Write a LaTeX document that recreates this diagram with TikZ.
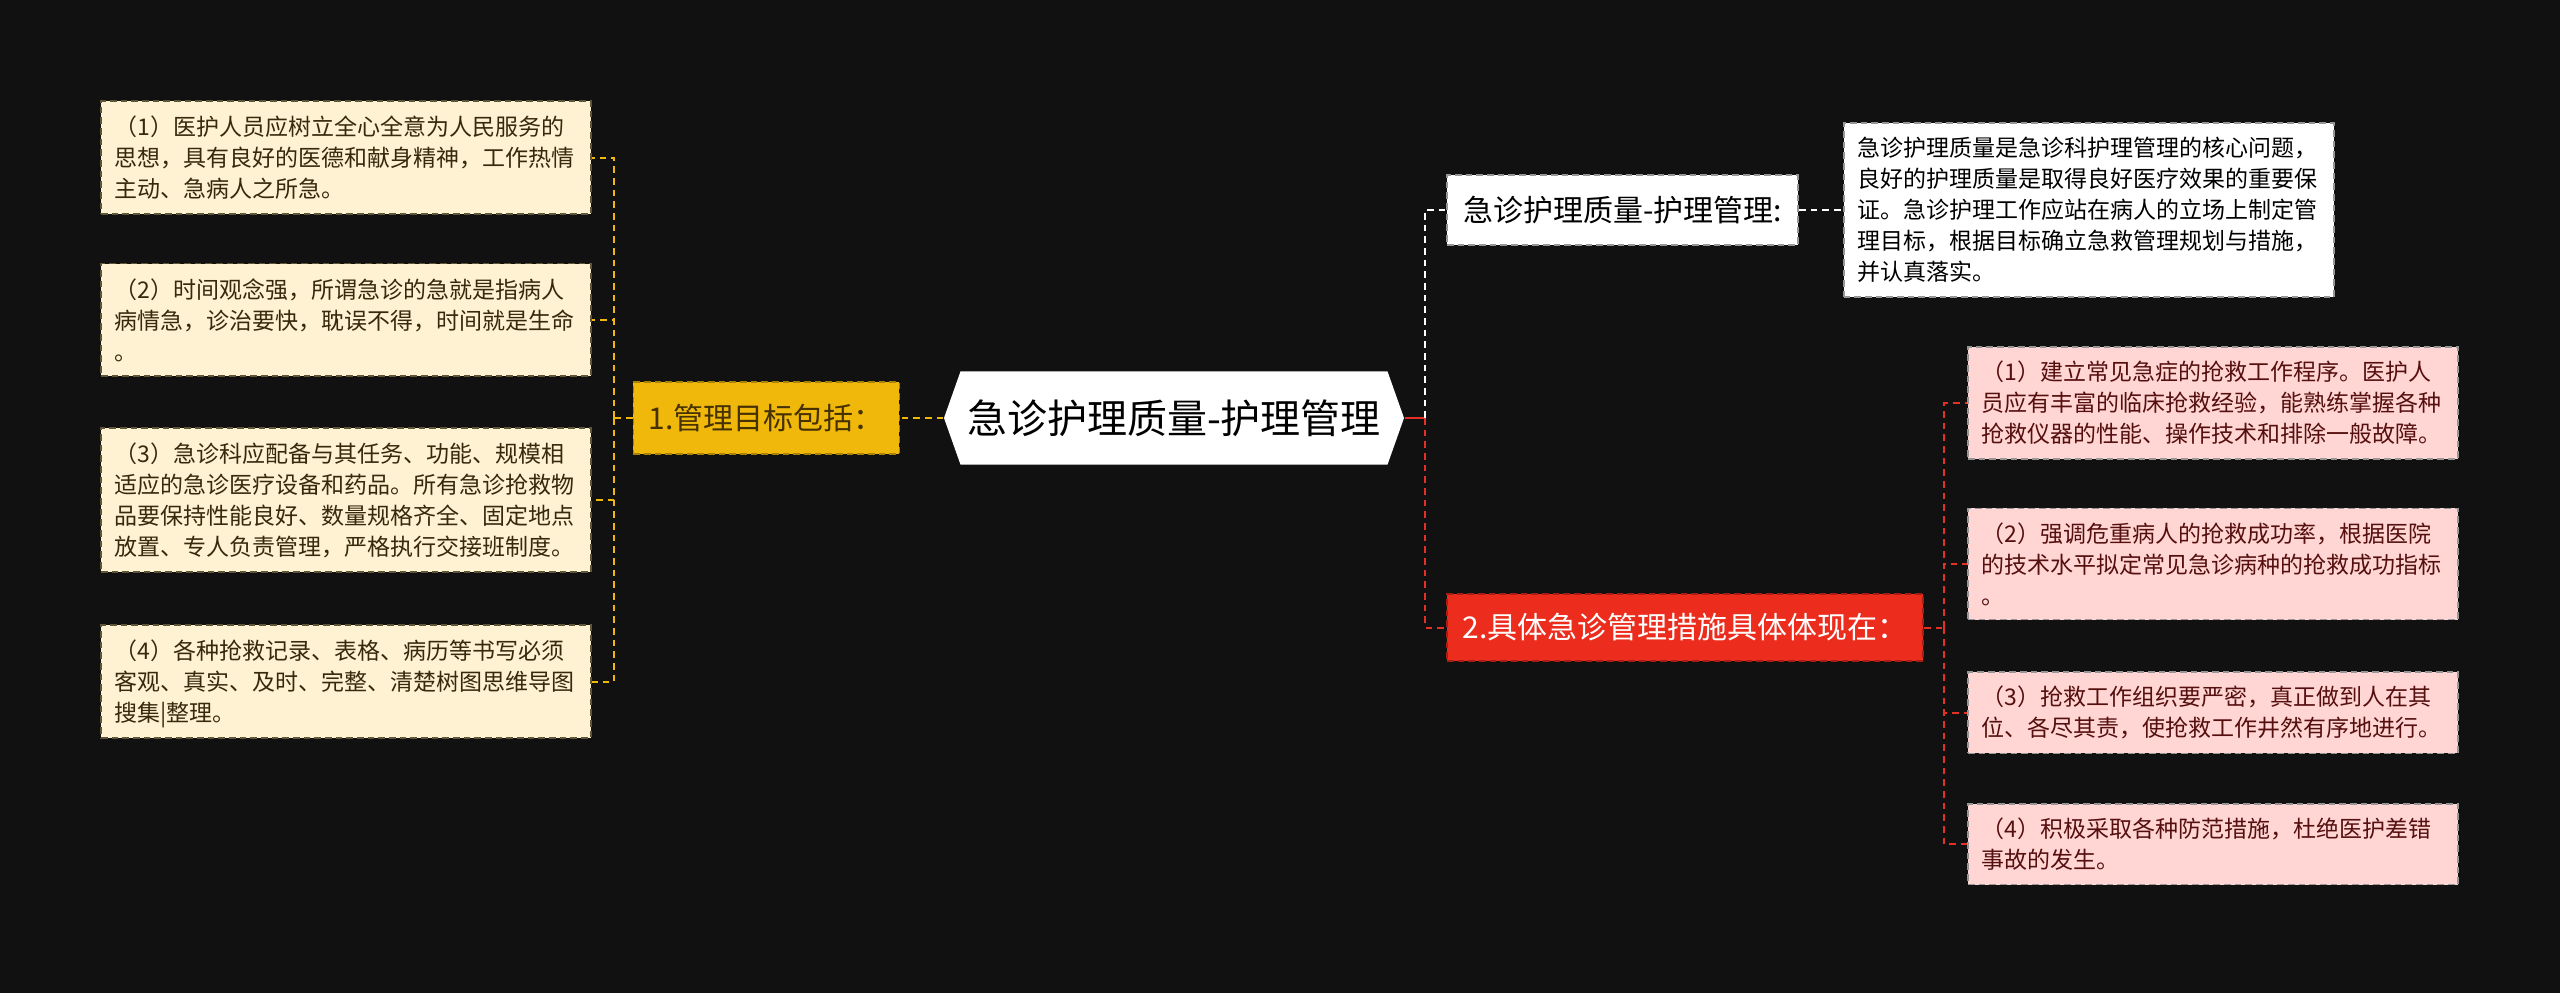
\documentclass[tikz,border=0pt]{standalone}
\usepackage{fontspec}
\newfontfamily\cjk{Noto Sans CJK SC}
\usepackage{xcolor}
\usepackage{tikz}
\usetikzlibrary{positioning, shapes.symbols, backgrounds}

\definecolor{bgdark}{RGB}{17,17,17}
\definecolor{gold}{RGB}{240,184,10}
\definecolor{goldtext}{RGB}{70,50,0}
\definecolor{cream}{RGB}{254,242,210}
\definecolor{creamline}{RGB}{95,85,55}
\definecolor{creamtext}{RGB}{55,42,12}
\definecolor{pinkfill}{RGB}{255,214,212}
\definecolor{pinkline}{RGB}{150,150,150}
\definecolor{pinktext}{RGB}{85,15,15}
\definecolor{redfill}{RGB}{236,44,28}
\definecolor{redline}{RGB}{228,48,38}

\begin{document}
\begin{tikzpicture}[x=1pt, y=-1pt, node distance=15pt]
        \tikzstyle{root} = [signal, signal to=west and east, signal pointer angle=141, fill=white, draw=none, inner sep=0pt, minimum width=138pt, minimum height=28pt, text=black, font=\cjk\fontsize{12}{14}\selectfont]
        \tikzstyle{goal} = [rectangle, draw=gold!70!black, dash pattern=on 2pt off 1.2pt, line width=0.5pt, fill=gold, text=goldtext, minimum width=79.8pt, minimum height=21.6pt, inner sep=0pt, font=\cjk\fontsize{9}{11}\selectfont]
        \tikzstyle{topic} = [rectangle, draw=pinkline, dash pattern=on 2pt off 1.2pt, line width=0.5pt, fill=white, text=black, minimum width=105.3pt, minimum height=21pt, inner sep=0pt, font=\cjk\fontsize{9}{11}\selectfont]
        \tikzstyle{measure} = [rectangle, draw=redfill!70!black, dash pattern=on 2pt off 1.2pt, line width=0.5pt, fill=redfill, text=white, minimum width=142.8pt, minimum height=20.1pt, inner sep=0pt, font=\cjk\fontsize{9}{11}\selectfont]
        \tikzstyle{leafy} = [rectangle, draw=creamline, dash pattern=on 2pt off 1.2pt, line width=0.5pt, fill=cream, text=creamtext, text width=139pt, align=left, inner xsep=4pt, inner ysep=4.4pt, font=\cjk\fontsize{6.9}{9.3}\selectfont]
        \tikzstyle{pinky} = [leafy, draw=pinkline, fill=pinkfill, text=pinktext, inner ysep=4.2pt]
        \tikzstyle{note} = [leafy, draw=pinkline, fill=white, text=black, inner ysep=4.35pt]
        \tikzstyle{goalline} = [gold, line width=0.6pt, dash pattern=on 2pt off 1.5pt]
        \tikzstyle{redconn} = [redline, line width=0.6pt, dash pattern=on 2pt off 1.5pt]
        \tikzstyle{whiteconn} = [white, line width=0.6pt, dash pattern=on 2pt off 1.5pt]

        \fill [bgdark] (0,0) rectangle (768,297.9);
        \useasboundingbox (0,0) rectangle (768,297.9);

        \node [root] (root) at (352.2,125.4) {急诊护理质量-护理管理};
        \node [goal, left=12.9pt of root] (goal) {1.管理目标包括：};

        \node [leafy] (g1) at (103.8,47.25) {（1）医护人员应树立全心全意为人民服务的\\思想，具有良好的医德和献身精神，工作热情\\主动、急病人之所急。};
        \node [leafy, below=14.4pt of g1] (g2) {（2）时间观念强，所谓急诊的急就是指病人\\病情急，诊治要快，耽误不得，时间就是生命\\。};
        \node [leafy, below=15pt of g2] (g3) {（3）急诊科应配备与其任务、功能、规模相\\适应的急诊医疗设备和药品。所有急诊抢救物\\品要保持性能良好、数量规格齐全、固定地点\\放置、专人负责管理，严格执行交接班制度。};
        \node [leafy, below=15.4pt of g3] (g4) {（4）各种抢救记录、表格、病历等书写必须\\客观、真实、及时、完整、清楚树图思维导图\\搜集\smash{|}整理。};

        \node [topic] (qual) at (486.75,63) {急诊护理质量-护理管理:};
        \node [note, right=13.2pt of qual] (qualnote) {急诊护理质量是急诊科护理管理的核心问题，\\良好的护理质量是取得良好医疗效果的重要保\\证。急诊护理工作应站在病人的立场上制定管\\理目标，根据目标确立急救管理规划与措施，\\并认真落实。};

        \node [measure] (meas) at (505.5,188.25) {2.具体急诊管理措施具体体现在：};
        \node [pinky] (m1) at (663.9,120.9) {（1）建立常见急症的抢救工作程序。医护人\\员应有丰富的临床抢救经验，能熟练掌握各种\\抢救仪器的性能、操作技术和排除一般故障。};
        \node [pinky, below=14.4pt of m1] (m2) {（2）强调危重病人的抢救成功率，根据医院\\的技术水平拟定常见急诊病种的抢救成功指标\\。};
        \node [pinky, below=15.3pt of m2] (m3) {（3）抢救工作组织要严密，真正做到人在其\\位、各尽其责，使抢救工作井然有序地进行。};
        \node [pinky, below=14.7pt of m3] (m4) {（4）积极采取各种防范措施，杜绝医护差错\\事故的发生。};

        \coordinate (lj) at (184.2,125.4);
        \coordinate (rj) at (427.5,125.4);
        \coordinate (mj) at (583.2,188.25);

        \draw [goalline] (root.west) -- (goal.east);
        \draw [goalline] (goal.west) -- (lj);
        \foreach \n in {g1,g2,g3,g4}
            \draw [goalline] (lj) |- (\n.east);
        \draw [redline, line width=0.6pt] (root.east) -- (rj);
        \draw [whiteconn] (rj) |- (qual.west);
        \draw [whiteconn] (qual.east) -- (qualnote.west);
        \draw [redconn] (rj) |- (meas.west);
        \draw [redconn] (meas.east) -- (mj);
        \foreach \n in {m1,m2,m3,m4}
            \draw [redconn] (mj) |- (\n.west);
    \end{tikzpicture}
\end{document}
